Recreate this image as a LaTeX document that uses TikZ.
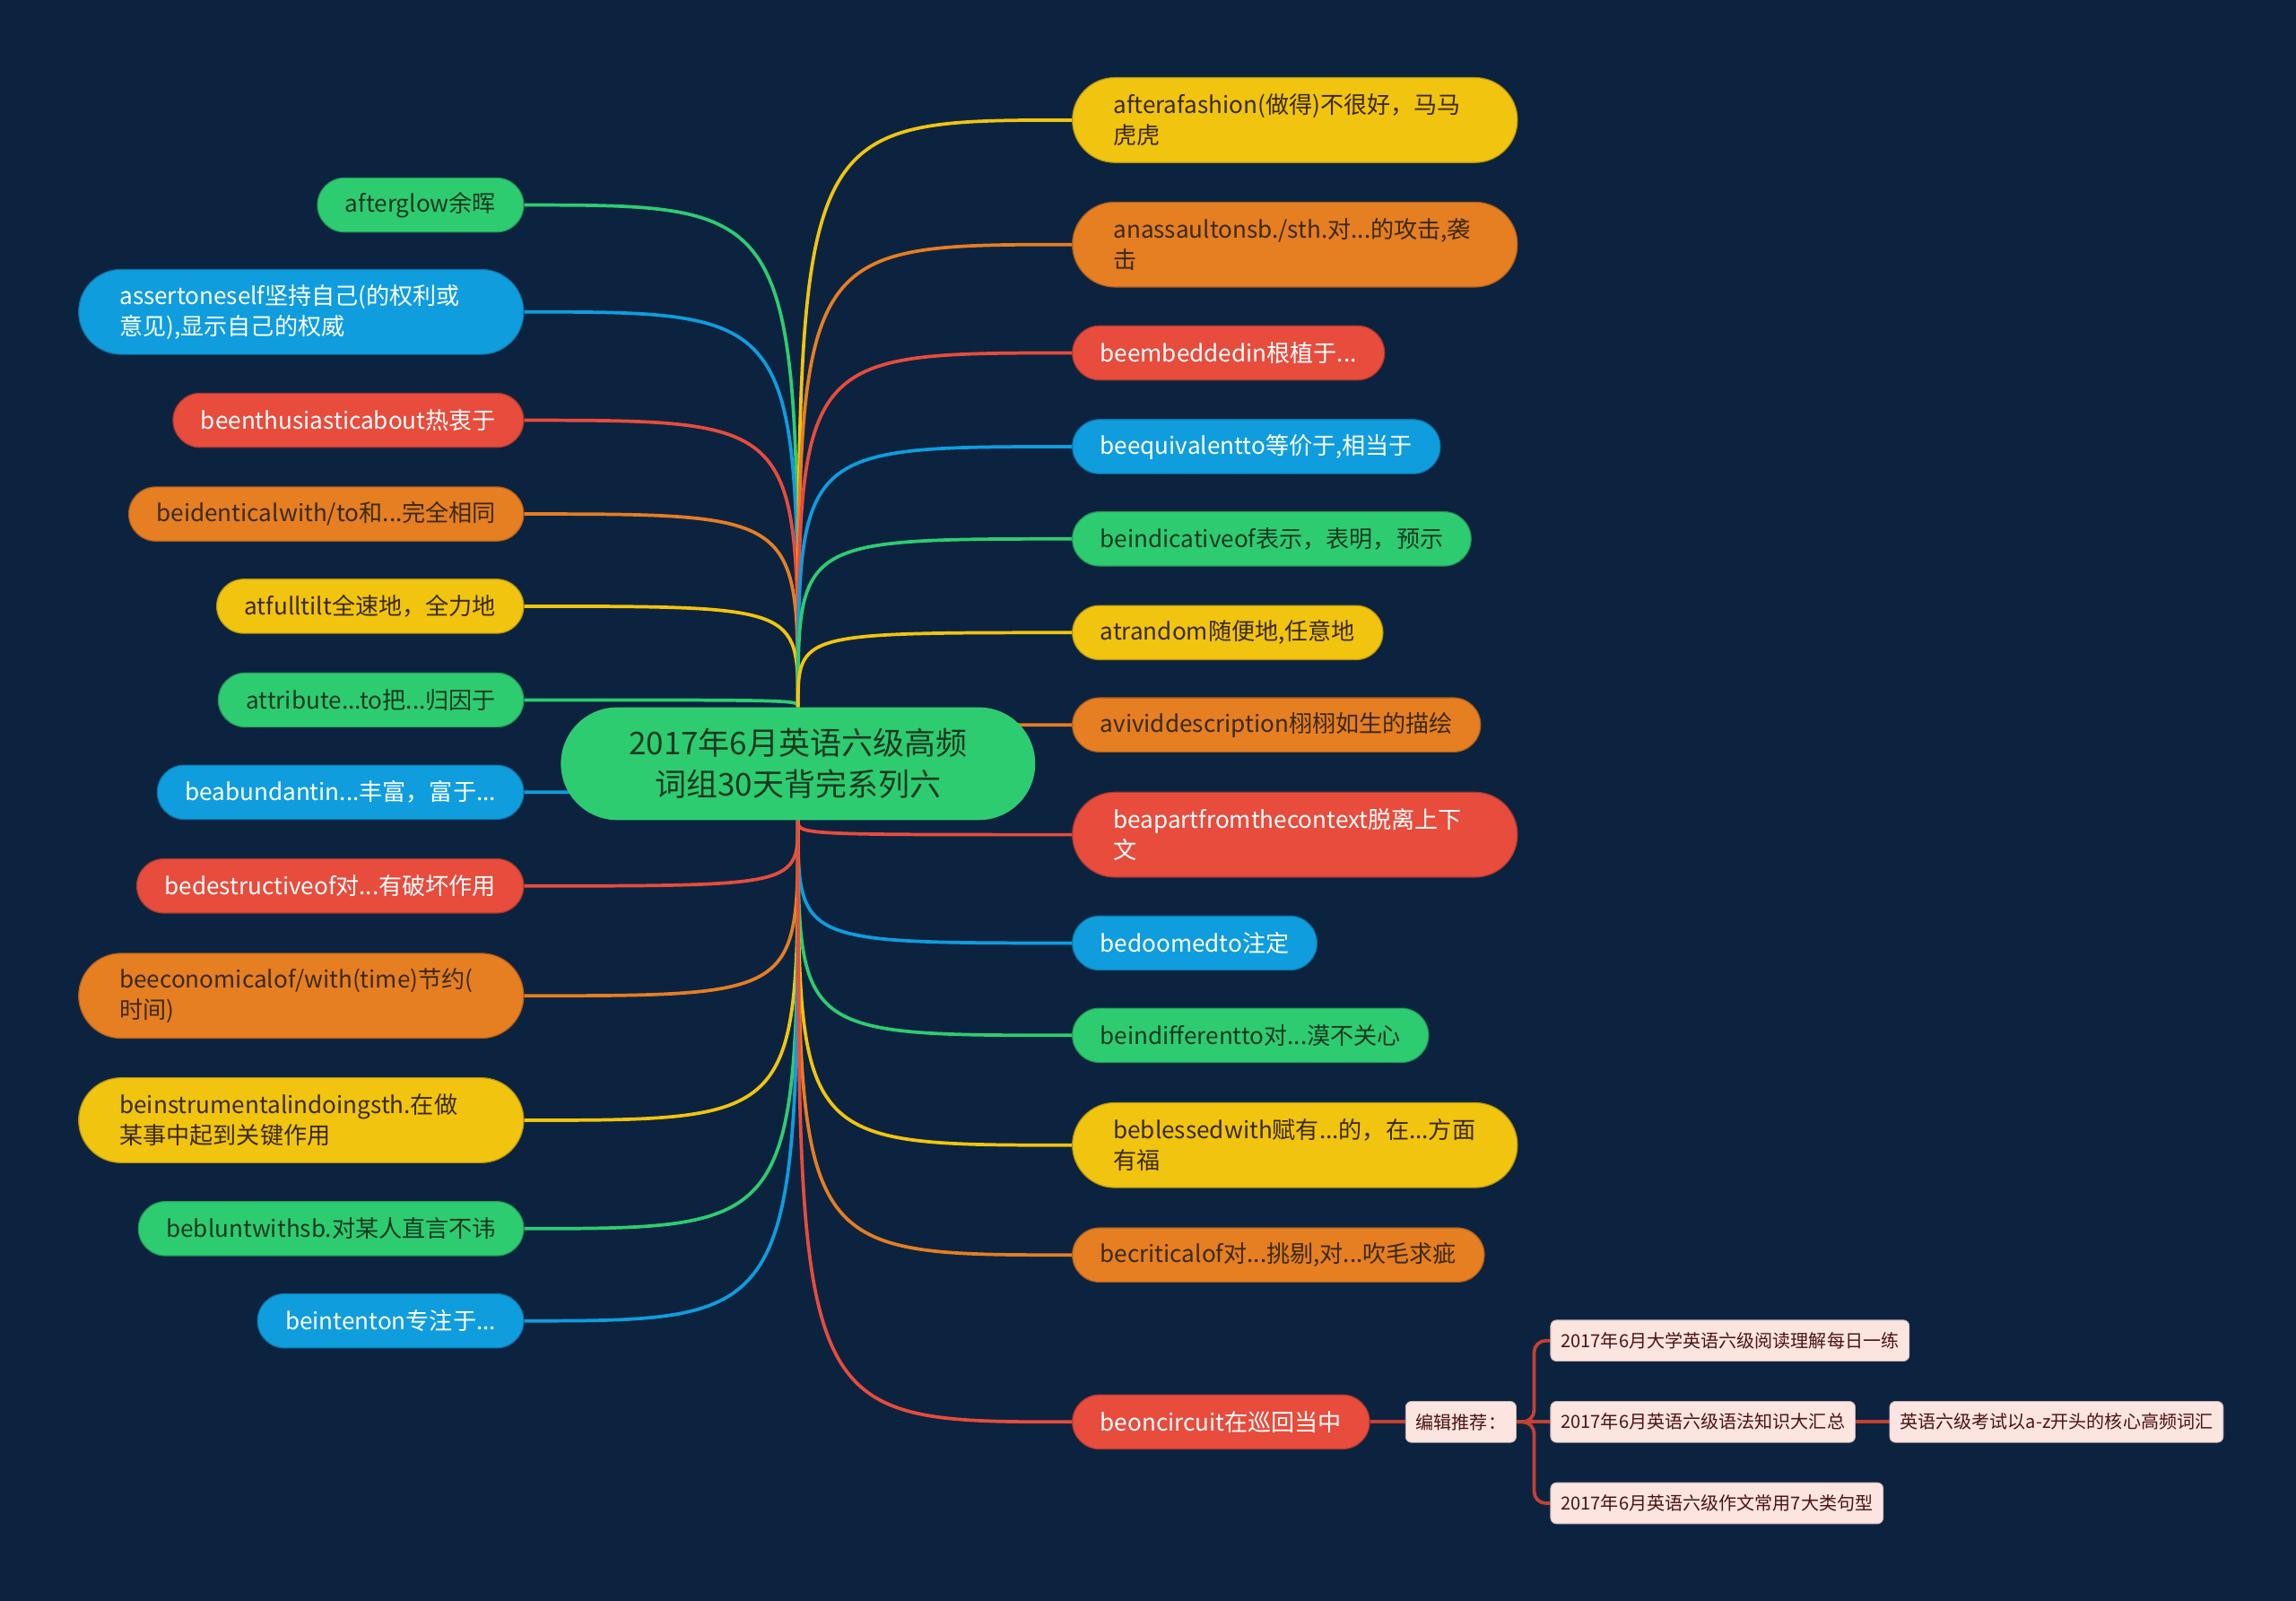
\documentclass[tikz,border=0pt]{standalone}
\usepackage{fontspec}
\setmainfont{Noto Sans CJK SC}
\usetikzlibrary{positioning, backgrounds}

\definecolor{bgnavy}{HTML}{0C2340}
\definecolor{mgreen}{HTML}{2ECC71}
\definecolor{mblue}{HTML}{0F9DDE}
\definecolor{mred}{HTML}{E74C3C}
\definecolor{morange}{HTML}{E67E22}
\definecolor{myellow}{HTML}{F1C40F}
\definecolor{greentext}{HTML}{17391F}
\definecolor{browntext}{HTML}{3A2A0E}
\definecolor{pinkfill}{HTML}{FCE4E0}
\definecolor{pinktext}{HTML}{4A1414}

\newcommand\leaffont{\fontsize{9.1pt}{11.9pt}\selectfont}
\newcommand\rootfont{\fontsize{12.2pt}{15.9pt}\selectfont}
\newcommand\pinkfont{\fontsize{7pt}{8.5pt}\selectfont}

\begin{document}
\begin{tikzpicture}[
    x=0.02cm, y=-0.02cm,
    leaf/.style={rectangle, rounded corners=0.37cm, minimum height=0.74cm, inner xsep=0.38cm, inner ysep=0pt, line width=0.4pt, font=\leaffont},
    twoline/.style={rounded corners=0.58cm, minimum height=1.16cm, text width=4.96cm, align=left, inner xsep=0.56cm},
    cgreen/.style={fill=mgreen, draw=mgreen!75!black, text=greentext},
    cblue/.style={fill=mblue, draw=mblue!75!black, text=white},
    cred/.style={fill=mred, draw=mred!75!black, text=white},
    corange/.style={fill=morange, draw=morange!75!black, text=browntext},
    cyellow/.style={fill=myellow, draw=myellow!75!black, text=browntext},
    root/.style={rectangle, rounded corners=0.77cm, minimum width=6.48cm, minimum height=1.54cm, align=center, fill=mgreen, text=greentext, font=\rootfont},
    pinkbox/.style={rectangle, rounded corners=0.08cm, minimum height=0.56cm, inner xsep=0.14cm, inner ysep=0pt, fill=pinkfill, draw=pinkfill!80!black, line width=0.3pt, text=pinktext, font=\pinkfont},
    branch/.style={line width=1.3pt},
    pinkline/.style={line width=1.3pt, mred!85!black, rounded corners=0.16cm}
]
    % Centre
    \node[root] (root) at (545,521.5) {2017年6月英语六级高频\\词组30天背完系列六};

    % Left branches
    \node[leaf, cgreen, anchor=east] (afterglow) at (358,140) {afterglow余晖};
    \node[leaf, twoline, cblue, anchor=east] (assert) at (358,213) {assertoneself坚持自己(的权利或\\意见),显示自己的权威};
    \node[leaf, cred, anchor=east] (enthusiastic) at (358,287) {beenthusiasticabout热衷于};
    \node[leaf, corange, anchor=east] (identical) at (358,351) {beidenticalwith/to和...完全相同};
    \node[leaf, cyellow, anchor=east] (fulltilt) at (358,414) {atfulltilt全速地，全力地};
    \node[leaf, cgreen, anchor=east] (attribute) at (358,478) {attribute...to把...归因于};
    \node[leaf, cblue, anchor=east] (abundant) at (358,541) {beabundantin...丰富，富于...};
    \node[leaf, cred, anchor=east] (destructive) at (358,605) {bedestructiveof对...有破坏作用};
    \node[leaf, twoline, corange, anchor=east] (economical) at (358,680) {beeconomicalof/with(time)节约(\\时间)};
    \node[leaf, twoline, cyellow, anchor=east] (instrumental) at (358,765) {beinstrumentalindoingsth.在做\\某事中起到关键作用};
    \node[leaf, cgreen, anchor=east] (blunt) at (358,839) {bebluntwithsb.对某人直言不讳};
    \node[leaf, cblue, anchor=east] (intent) at (358,902) {beintenton专注于...};

    % Right branches
    \node[leaf, twoline, cyellow, anchor=west] (fashion) at (732,82) {afterafashion(做得)不很好，马马\\虎虎};
    \node[leaf, twoline, corange, anchor=west] (assault) at (732,167) {anassaultonsb./sth.对...的攻击,袭\\击};
    \node[leaf, cred, anchor=west] (embedded) at (732,241) {beembeddedin根植于...};
    \node[leaf, cblue, anchor=west] (equivalent) at (732,305) {beequivalentto等价于,相当于};
    \node[leaf, cgreen, anchor=west] (indicative) at (732,368) {beindicativeof表示，表明，预示};
    \node[leaf, cyellow, anchor=west] (random) at (732,432) {atrandom随便地,任意地};
    \node[leaf, corange, anchor=west] (vivid) at (732,495) {avividdescription栩栩如生的描绘};
    \node[leaf, twoline, cred, anchor=west] (apart) at (732,570) {beapartfromthecontext脱离上下\\文};
    \node[leaf, cblue, anchor=west] (doomed) at (732,644) {bedoomedto注定};
    \node[leaf, cgreen, anchor=west] (indifferent) at (732,707) {beindifferentto对...漠不关心};
    \node[leaf, twoline, cyellow, anchor=west] (blessed) at (732,782) {beblessedwith赋有...的，在...方面\\有福};
    \node[leaf, corange, anchor=west] (critical) at (732,857) {becriticalof对...挑剔,对...吹毛求疵};
    \node[leaf, cred, anchor=west] (circuit) at (732,971) {beoncircuit在巡回当中};

    % Recommendations
    \node[pinkbox, right=0.48cm of circuit] (editor) {编辑推荐：};
    \node[pinkbox, right=0.46cm of editor] (grammar) {2017年6月英语六级语法知识大汇总};
    \node[pinkbox, above=0.54cm of grammar.north west, anchor=south west] (reading) {2017年6月大学英语六级阅读理解每日一练};
    \node[pinkbox, below=0.54cm of grammar.south west, anchor=north west] (writing) {2017年6月英语六级作文常用7大类句型};
    \node[pinkbox, right=0.46cm of grammar] (vocab) {英语六级考试以a-z开头的核心高频词汇};

    \begin{pgfonlayer}{background}
    \fill[bgnavy] (0,0) rectangle (1568,1093);

    % Left connectors
    \draw[branch, mgreen] (root.north) .. controls (root.north |- afterglow.east) .. (afterglow.east);
    \draw[branch, mblue] (root.north) .. controls (root.north |- assert.east) .. (assert.east);
    \draw[branch, mred] (root.north) .. controls (root.north |- enthusiastic.east) .. (enthusiastic.east);
    \draw[branch, morange] (root.north) .. controls (root.north |- identical.east) .. (identical.east);
    \draw[branch, myellow] (root.north) .. controls (root.north |- fulltilt.east) .. (fulltilt.east);
    \draw[branch, mgreen] (root.north) .. controls (root.north |- attribute.east) .. (attribute.east);
    \draw[branch, mblue] (root.south) .. controls (root.south |- abundant.east) .. (abundant.east);
    \draw[branch, mred] (root.south) .. controls (root.south |- destructive.east) .. (destructive.east);
    \draw[branch, morange] (root.south) .. controls (root.south |- economical.east) .. (economical.east);
    \draw[branch, myellow] (root.south) .. controls (root.south |- instrumental.east) .. (instrumental.east);
    \draw[branch, mgreen] (root.south) .. controls (root.south |- blunt.east) .. (blunt.east);
    \draw[branch, mblue] (root.south) .. controls (root.south |- intent.east) .. (intent.east);

    % Right connectors
    \draw[branch, myellow] (root.north) .. controls (root.north |- fashion.west) .. (fashion.west);
    \draw[branch, morange] (root.north) .. controls (root.north |- assault.west) .. (assault.west);
    \draw[branch, mred] (root.north) .. controls (root.north |- embedded.west) .. (embedded.west);
    \draw[branch, mblue] (root.north) .. controls (root.north |- equivalent.west) .. (equivalent.west);
    \draw[branch, mgreen] (root.north) .. controls (root.north |- indicative.west) .. (indicative.west);
    \draw[branch, myellow] (root.north) .. controls (root.north |- random.west) .. (random.west);
    \draw[branch, morange] (root.north) .. controls (root.north |- vivid.west) .. (vivid.west);
    \draw[branch, mred] (root.south) .. controls (root.south |- apart.west) .. (apart.west);
    \draw[branch, mblue] (root.south) .. controls (root.south |- doomed.west) .. (doomed.west);
    \draw[branch, mgreen] (root.south) .. controls (root.south |- indifferent.west) .. (indifferent.west);
    \draw[branch, myellow] (root.south) .. controls (root.south |- blessed.west) .. (blessed.west);
    \draw[branch, morange] (root.south) .. controls (root.south |- critical.west) .. (critical.west);
    \draw[branch, mred] (root.south) .. controls (root.south |- circuit.west) .. (circuit.west);

    % Recommendation links
    \draw[pinkline] (circuit.east) -- (editor.west);
    \draw[pinkline] (editor.east) -- (grammar.west);
    \draw[pinkline] (editor.east) -- ++(12,0) |- (reading.west);
    \draw[pinkline] (editor.east) -- ++(12,0) |- (writing.west);
    \draw[pinkline] (grammar.east) -- (vocab.west);
    \end{pgfonlayer}
\end{tikzpicture}
\end{document}
